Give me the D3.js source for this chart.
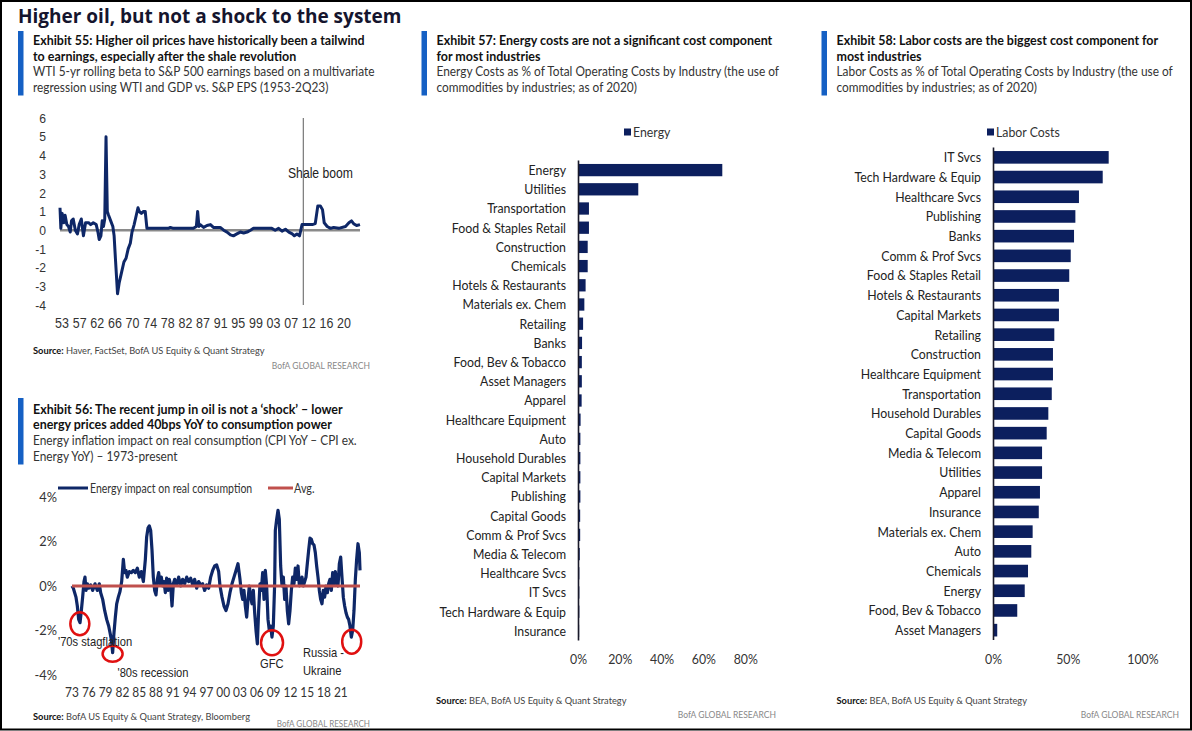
<!DOCTYPE html>
<html><head><meta charset="utf-8">
<script src="https://cdn.jsdelivr.net/npm/d3@7"></script>
<style>body{margin:0;background:#fff}svg{display:block}</style>
</head><body>
<svg id="chart" width="1192" height="731"></svg>
<script>
// ---------------- DATA ----------------
// Exhibit 55: WTI 5-yr rolling beta to S&P 500 earnings
const ex55Years = [1953.0,1953.2,1953.5,1953.9,1954.2,1954.6,1955.0,1955.4,1955.7,1956.1,
  1956.6,1957.1,1957.5,1958.0,1958.5,1959.0,1959.7,1960.2,1960.8,1961.5,
  1961.9,1962.2,1962.6,1962.9,1963.2,1963.5,1963.8,1964.1,1964.4,1964.9,
  1965.4,1965.7,1966.0,1966.5,1966.9,1967.5,1968.0,1968.5,1969.0,1969.5,
  1969.9,1970.4,1970.9,1971.3,1971.6,1972.1,1972.6,1973.0,1973.4,1978.4,
  1978.9,1979.6,1984.3,1985.0,1985.3,1985.6,1985.9,1986.7,1987.5,1988.3,
  1989.0,1990.6,1991.4,1992.2,1993.0,1993.7,1994.5,1995.3,1996.1,1996.9,
  1997.7,1998.4,2000.0,2001.6,2002.7,2003.5,2004.3,2005.1,2005.9,2006.7,
  2007.5,2008.0,2008.6,2009.2,2009.8,2010.2,2011.0,2012.2,2012.9,2013.5,
  2014.1,2014.6,2015.0,2015.7,2016.5,2017.2,2018.4,2020.0,2020.8,2021.4,
  2021.9,2022.6,2023.4];
const ex55Beta = [1.2,0.1,0.9,0.4,0.8,0.3,0.2,-0.1,0.5,0.6,
  0.0,-0.2,0.3,0.6,-0.3,0.4,0.4,0.3,0.4,0.3,
  -0.1,-0.5,-0.3,0.5,0.2,0.6,5.0,1.0,0.8,0.5,
  0.2,-0.3,-1.5,-3.4,-2.8,-2.2,-1.7,-1.5,-1.0,-0.7,
  -0.1,0.3,0.8,1.2,1.0,0.9,1.0,1.0,0.1,0.1,
  0.15,0.1,0.1,0.2,1.0,0.2,0.3,0.15,0.25,0.3,
  0.15,0.15,0.0,-0.1,-0.25,-0.3,-0.2,-0.1,-0.15,-0.1,
  0.0,0.1,0.1,0.1,0.1,0.0,0.1,-0.05,0.05,-0.1,
  -0.2,-0.3,-0.2,-0.3,0.3,0.3,0.3,0.3,0.35,1.3,
  1.3,1.1,0.4,0.2,0.1,0.15,0.1,0.2,0.4,0.5,
  0.35,0.25,0.3];
const ex55TickLabels = ["53","57","62","66","70","74","78","82","87","91","95","99","03","07","12","16","20"];
const ex55YTicks = [6,5,4,3,2,1,0,-1,-2,-3,-4];
const shaleBoomYear = 2010.1;

// Exhibit 56: Energy impact on real consumption (%)
const ex56Years = [1973.0,1973.24,1973.71,1973.95,1974.19,1974.43,1974.67,1974.9,1975.14,1975.32,
  1975.5,1975.74,1975.98,1976.33,1976.69,1977.11,1977.52,1977.88,1978.12,1978.48,
  1978.83,1979.19,1979.55,1979.79,1980.02,1980.26,1980.5,1980.74,1980.98,1981.27,
  1981.57,1981.87,1982.17,1982.4,1982.64,1982.88,1983.24,1983.6,1983.95,1984.31,
  1984.67,1985.02,1985.38,1985.74,1986.1,1986.33,1986.57,1986.81,1987.05,1987.29,
  1987.52,1987.76,1988.0,1988.24,1988.48,1988.71,1988.95,1989.19,1989.43,1989.67,
  1989.9,1990.14,1990.38,1990.62,1990.86,1991.1,1991.33,1991.69,1992.05,1992.4,
  1992.76,1993.12,1993.48,1993.83,1994.19,1994.55,1994.9,1995.26,1995.62,1995.98,
  1996.33,1996.69,1997.05,1997.4,1997.76,1998.12,1998.48,1998.83,1999.19,1999.43,
  1999.79,2000.14,2000.5,2000.86,2001.21,2001.57,2001.93,2002.29,2002.64,2003.0,
  2003.24,2003.48,2003.71,2003.95,2004.19,2004.43,2004.67,2004.9,2005.14,2005.38,
  2005.62,2005.86,2006.1,2006.33,2006.57,2006.81,2007.05,2007.29,2007.52,2007.76,
  2008.0,2008.24,2008.48,2008.71,2008.95,2009.19,2009.31,2009.55,2009.79,2010.02,
  2010.26,2010.5,2010.74,2010.98,2011.21,2011.45,2011.69,2011.93,2012.17,2012.4,
  2012.64,2012.88,2013.12,2013.36,2013.6,2013.83,2014.07,2014.31,2014.55,2014.79,
  2015.02,2015.26,2015.5,2015.74,2015.98,2016.21,2016.45,2016.69,2016.93,2017.17,
  2017.4,2017.64,2017.88,2018.12,2018.36,2018.6,2018.83,2019.07,2019.31,2019.55,
  2019.79,2020.02,2020.26,2020.5,2020.74,2020.98,2021.21,2021.45,2021.69,2021.93,
  2022.17,2022.4,2022.64,2022.88,2023.12,2023.36,2023.6,2023.83,2024.07,2024.31,
  2024.43];
const ex56Impact = [0,-0.1,-0.5,-0.9,-1.5,-1.65,-1.1,-0.5,0.2,0.4,
  -0.2,0.1,-0.1,0.05,-0.2,0.1,-0.2,0.1,-0.3,-0.6,
  -1.1,-1.5,-1.8,-2.1,-2.4,-3.0,-2.1,-1.4,-0.8,-0.5,
  -0.25,0.2,1.2,0.6,0.7,0.4,0.65,0.6,0.7,0.6,
  0.8,0.4,0.65,0.2,1.2,2.2,2.6,2.7,2.5,1.6,
  0.4,-0.2,-0.4,0.3,0.6,0.1,0.4,0,0.2,-0.3,
  0.35,-0.2,0.3,0,-0.9,0.1,0.3,0.05,0.4,0,
  0.3,0.1,0.4,0.2,0.35,0.05,0.3,-0.1,0.2,0.05,
  0.1,-0.2,0.05,-0.1,0.4,0.7,0.9,0.95,0.65,0,
  -0.5,-0.9,-1.1,-0.8,-0.3,0.1,0.4,0.7,1.0,0.3,
  -0.3,-0.6,-0.2,-0.9,-1.4,-0.6,0,-0.5,-0.8,-0.2,
  -1.2,-2.0,-2.6,-1.1,0.1,-0.2,0.6,-0.6,0.7,0,
  -1.5,-2.0,-1.8,-2.3,-1.8,0.1,2.5,3.0,3.4,3.0,
  0.9,0,0.4,-0.6,0,-1.1,-1.7,-1.1,-0.2,0.4,
  0.1,0.8,0.3,0.9,0,0.1,0.4,0,0.2,0.4,
  1.0,1.6,2.15,2.1,1.9,1.85,1.5,0.9,0.4,-0.2,
  -0.6,-0.8,-0.2,-0.5,0,-0.3,0.1,0.3,-0.2,0.6,
  0.1,0.65,0.1,0,1.0,1.3,0.4,-0.5,-0.9,-1.2,
  -1.4,-1.5,-1.8,-2.3,-2.0,-1.1,0.3,1.2,1.9,1.5,
  0.7];
const ex56Avg = 0;
const ex56TickLabels = ["73","76","79","82","85","88","91","94","97","00","03","06","09","12","15","18","21"];
const ex56YTicks = [4,2,0,-2,-4];
const ex56Events = ["'70s stagflation","'80s recession","GFC","Russia - Ukraine"];
const ex56EventYears = [1974.4,1980.25,2008.72,2022.95];
const ex56EventValues = [-1.7,-3.05,-2.55,-2.5];

// Exhibit 57: Energy costs as % of total operating costs
const energyCategories = ["Energy","Utilities","Transportation","Food & Staples Retail","Construction","Chemicals",
  "Hotels & Restaurants","Materials ex. Chem","Retailing","Banks","Food, Bev & Tobacco","Asset Managers","Apparel",
  "Healthcare Equipment","Auto","Household Durables","Capital Markets","Publishing","Capital Goods","Comm & Prof Svcs",
  "Media & Telecom","Healthcare Svcs","IT Svcs","Tech Hardware & Equip","Insurance"];
const energyValues = [68.8,28.6,5.0,5.0,4.4,4.4,3.4,2.8,2.2,1.7,1.6,1.6,1.5,1.0,0.9,0.9,0.9,0.9,0.8,0.8,0.6,0.4,0.4,0.4,0.3];
const energyTicks = [0,20,40,60,80];

// Exhibit 58: Labor costs as % of total operating costs
const laborCategories = ["IT Svcs","Tech Hardware & Equip","Healthcare Svcs","Publishing","Banks","Comm & Prof Svcs",
  "Food & Staples Retail","Hotels & Restaurants","Capital Markets","Retailing","Construction","Healthcare Equipment",
  "Transportation","Household Durables","Capital Goods","Media & Telecom","Utilities","Apparel","Insurance",
  "Materials ex. Chem","Auto","Chemicals","Energy","Food, Bev & Tobacco","Asset Managers"];
const laborValues = [77.1,73.1,57.2,54.8,53.9,51.7,50.7,43.8,43.8,40.7,39.8,39.8,39.0,36.7,35.6,32.5,32.5,31.1,30.3,26.2,25.3,23.1,20.9,15.9,2.5];
const laborTicks = [0,50,100];

// ---------------- DRAWING ----------------
const CAL = "Lato, 'Open Sans', sans-serif";
const ARI = "'Liberation Sans', Arial, sans-serif";
const NAVY = "#0c1f5e";
const LINE_NAVY = "#0e2767";
const BLUE = "#1560c4";
const svg = d3.select("#chart");

function txt(g, x, y, s, o = {}) {
  const t = g.append("text")
    .attr("transform", `translate(${x},${y}) scale(${o.sx ?? 1},1)`)
    .attr("text-anchor", o.anchor || "start")
    .attr("font-family", o.ff || CAL)
    .attr("font-size", o.fs || 14)
    .attr("font-weight", o.fw || "normal")
    .attr("fill", o.fill || "#222");
  if (o.dy) t.attr("dy", o.dy);
  t.text(s);
  return t;
}
function source(g, x, y, rest) {
  const t = g.append("text").attr("transform", `translate(${x},${y}) scale(0.93,1)`)
    .attr("font-family", CAL).attr("font-size", 10).attr("fill", "#444");
  t.append("tspan").attr("font-weight", "bold").attr("fill", "#111").text("Source: ");
  t.append("tspan").text(rest);
}
function header(x, yTop, titleLines, subLines, baseLines) {
  svg.append("rect").attr("x", x).attr("y", yTop).attr("width", 5.5).attr("height", baseLines[3] - yTop + 4).attr("fill", BLUE);
  titleLines.forEach((s, i) => txt(svg, x + 15, baseLines[i], s, {fw: "bold", fs: 14, sx: 0.89, fill: "#111"}));
  subLines.forEach((s, i) => txt(svg, x + 15, baseLines[2 + i], s, {fs: 13.5, sx: 0.88, fill: "#333"}));
}

svg.append("rect").attr("width", 1192).attr("height", 731).attr("fill", "#fff");
svg.append("rect").attr("x", 1).attr("y", 1).attr("width", 1190).attr("height", 728.5)
  .attr("fill", "none").attr("stroke", "#000").attr("stroke-width", 2);

txt(svg, 18, 22.5, "Higher oil, but not a shock to the system", {ff: "'Open Sans', sans-serif", fw: "bold", fs: 19, fill: "#15152e"});

// ---- Exhibit 55 ----
header(18, 31, ["Exhibit 55: Higher oil prices have historically been a tailwind", "to earnings, especially after the shale revolution"],
  ["WTI 5-yr rolling beta to S&P 500 earnings based on a multivariate", "regression using WTI and GDP vs. S&P EPS (1953-2Q23)"], [45, 61, 76, 91.5]);
{
  const x = d3.scaleLinear().domain([1953, 2023.4]).range([60, 360]);
  const y = d3.scaleLinear().domain([-4, 6]).range([305, 118]);
  const xp = d3.scalePoint().domain(ex55TickLabels).range([62, 344]);
  const g = svg.append("g");
  ex55YTicks.forEach(v => txt(g, 46, y(v), String(v), {ff: ARI, fs: 13.5, sx: 0.9, anchor: "end", dy: "0.35em", fill: "#333"}));
  ex55TickLabels.forEach(l => txt(g, xp(l), 328, l, {ff: ARI, fs: 14.5, sx: 0.86, anchor: "middle", fill: "#333"}));
  g.append("line").attr("x1", x(1953)).attr("x2", x(2023.4)).attr("y1", y(0)).attr("y2", y(0))
    .attr("stroke", "#8a8a8a").attr("stroke-width", 2.5);
  g.append("line").attr("x1", x(shaleBoomYear)).attr("x2", x(shaleBoomYear)).attr("y1", y(6)).attr("y2", y(-4))
    .attr("stroke", "#777").attr("stroke-width", 1.2);
  txt(g, 288, 178, "Shale boom", {ff: ARI, fs: 14.5, sx: 0.84, fill: "#222"});
  const line = d3.line().x((d, i) => x(ex55Years[i])).y(d => y(d));
  g.append("path").datum(ex55Beta).attr("d", line).attr("fill", "none")
    .attr("stroke", LINE_NAVY).attr("stroke-width", 3).attr("stroke-linejoin", "round");
  source(g, 33, 354, "Haver, FactSet, BofA US Equity & Quant Strategy");
  txt(g, 370, 369, "BofA GLOBAL RESEARCH", {fs: 9.5, sx: 0.9, anchor: "end", fill: "#888"});
}

// ---- Exhibit 56 ----
header(18, 398, ["Exhibit 56: The recent jump in oil is not a \u2018shock\u2019 \u2013 lower", "energy prices added 40bps YoY to consumption power"],
  ["Energy inflation impact on real consumption (CPI YoY \u2013 CPI ex.", "Energy YoY) \u2013 1973-present"], [413.5, 429, 445, 460.5]);
{
  const x = d3.scaleLinear().domain([1973, 2024.43]).range([72, 360]);
  const y = d3.scaleLinear().domain([-4, 4]).range([675, 497]);
  const g = svg.append("g");
  ex56YTicks.forEach(v => txt(g, 57, y(v), v + "%", {fs: 13.5, sx: 0.95, anchor: "end", dy: "0.35em", fill: "#333"}));
  ex56TickLabels.forEach(l => {
    const yr = (+l < 50 ? 2000 : 1900) + +l;
    txt(g, x(yr), 697, l, {fs: 14, sx: 0.85, anchor: "middle", fill: "#333"});
  });
  // legend
  g.append("line").attr("x1", 58).attr("x2", 88).attr("y1", 488).attr("y2", 488).attr("stroke", LINE_NAVY).attr("stroke-width", 3);
  txt(g, 90, 492.5, "Energy impact on real consumption", {fs: 13.5, sx: 0.78, fill: "#333"});
  g.append("line").attr("x1", 268).attr("x2", 293).attr("y1", 488).attr("y2", 488).attr("stroke", "#c0504d").attr("stroke-width", 3);
  txt(g, 294, 492.5, "Avg.", {fs: 13.5, sx: 0.8, fill: "#333"});
  const line = d3.line().x((d, i) => x(ex56Years[i])).y(d => y(d));
  g.append("path").datum(ex56Impact).attr("d", line).attr("fill", "none")
    .attr("stroke", LINE_NAVY).attr("stroke-width", 3.2).attr("stroke-linejoin", "round");
  g.append("line").attr("x1", x(ex56Years[0])).attr("x2", x(ex56Years[ex56Years.length - 1]))
    .attr("y1", y(ex56Avg)).attr("y2", y(ex56Avg)).attr("stroke", "#c0504d").attr("stroke-width", 3);
  const rad = [[9.5, 11.5], [10, 8], [11, 12.5], [9.5, 12]];
  ex56Events.forEach((e, i) => {
    g.append("ellipse").attr("cx", x(ex56EventYears[i])).attr("cy", y(ex56EventValues[i]))
      .attr("rx", rad[i][0]).attr("ry", rad[i][1]).attr("fill", "none").attr("stroke", "#e01010").attr("stroke-width", 2.5);
  });
  const aO = {ff: ARI, fs: 13, sx: 0.86, fill: "#222"};
  txt(g, 58, 646, ex56Events[0], aO);
  txt(g, 117.5, 677, ex56Events[1], aO);
  txt(g, 260, 668, ex56Events[2], aO);
  const parts = ex56Events[3].split(" - ");
  txt(g, 303, 657, parts[0] + " -", aO);
  txt(g, 303, 675, parts[1], aO);
  source(g, 33, 720, "BofA US Equity & Quant Strategy, Bloomberg");
  txt(g, 370, 726.5, "BofA GLOBAL RESEARCH", {fs: 9, sx: 0.9, anchor: "end", fill: "#888"});
}

// ---- Bar charts ----
function barChart(opts) {
  const {cats, vals, ticks, x0, x1, dmax, y0, y1, labelX, legendX, legendLabel, srcX, brX} = opts;
  const x = d3.scaleLinear().domain([0, dmax]).range([x0, x1]);
  const y = d3.scaleBand().domain(cats).range([y0, y1]).paddingInner(0.36).paddingOuter(0.18);
  const g = svg.append("g");
  g.selectAll("rect.bar").data(vals).join("rect").attr("class", "bar")
    .attr("x", x(0)).attr("y", (d, i) => y(cats[i])).attr("width", d => x(d) - x(0)).attr("height", y.bandwidth())
    .attr("fill", NAVY);
  g.append("line").attr("x1", x(0)).attr("x2", x(0)).attr("y1", y0).attr("y2", y1).attr("stroke", "#1a1a2a").attr("stroke-width", 1.6);
  cats.forEach(c => txt(g, labelX, y(c) + y.bandwidth() / 2, c, {fs: 14, sx: 0.88, anchor: "end", dy: "0.35em", fill: "#222"}));
  ticks.forEach(t => txt(g, x(t), 664, t + "%", {fs: 14, sx: 0.88, anchor: "middle", fill: "#333"}));
  g.append("rect").attr("x", legendX).attr("y", 128.5).attr("width", 7).attr("height", 7).attr("fill", NAVY);
  txt(g, legendX + 9, 132, legendLabel, {fs: 14, sx: 0.88, dy: "0.35em", fill: "#333"});
  source(g, srcX, 704, "BEA, BofA US Equity & Quant Strategy");
  txt(g, brX, 718, "BofA GLOBAL RESEARCH", {fs: 9.5, sx: 0.9, anchor: "end", fill: "#888"});
}

header(421.5, 31, ["Exhibit 57: Energy costs are  not a significant cost component", "for most industries"],
  ["Energy Costs as % of Total Operating Costs by Industry (the use of", "commodities by industries; as of 2020)"], [45, 61, 76, 91.5]);
barChart({cats: energyCategories, vals: energyValues, ticks: energyTicks, x0: 578.5, x1: 745.7, dmax: 80,
  y0: 160.5, y1: 640.5, labelX: 566, legendX: 624, legendLabel: "Energy", srcX: 436, brX: 776});

header(821.5, 31, ["Exhibit 58: Labor  costs are the biggest cost component for", "most industries"],
  ["Labor Costs as % of Total Operating Costs by Industry (the use of", "commodities by industries; as of 2020)"], [45, 61, 76, 91.5]);
barChart({cats: laborCategories, vals: laborValues, ticks: laborTicks, x0: 993.5, x1: 1142.9, dmax: 100,
  y0: 147.5, y1: 640, labelX: 981, legendX: 987, legendLabel: "Labor Costs", srcX: 836.5, brX: 1179});
</script>
</body></html>
